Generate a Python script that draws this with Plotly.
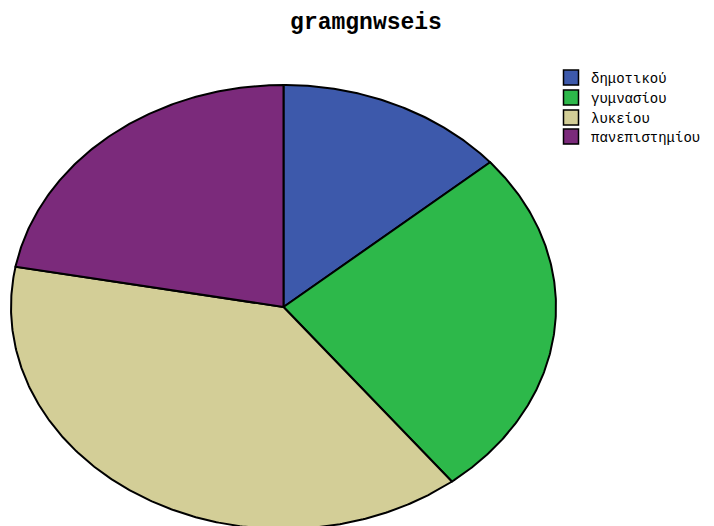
import numpy as np
import plotly.graph_objects as go

# Education level shares (percent of respondents)
categories = ["δημοτικού", "γυμνασίου", "λυκείου", "πανεπιστημίου"]
shares = [13.7, 25.7, 38.5, 22.1]
colors = ["#3d59ab", "#2db84a", "#d3ce97", "#7b2a7b"]

W, H = 714, 526
# ellipse placement in pixels (centre and radii)
cx, cy, rx, ry = 283.5, 307.0, 272.5, 222.0
# legend rows: vertical centre of each entry, in pixels
legend_rows = [77, 97, 117, 136]

fig = go.Figure()

total = float(sum(shares))
start = 0.0
for name, val, col in zip(categories, shares, colors):
    a0 = start / total * 2 * np.pi
    a1 = (start + val) / total * 2 * np.pi
    n = max(int(np.degrees(a1 - a0)) * 2, 8)
    t = np.linspace(a0, a1, n)
    xs = np.concatenate([[0.0], np.sin(t), [0.0]])
    ys = np.concatenate([[0.0], np.cos(t), [0.0]])
    fig.add_trace(go.Scatter(
        x=xs, y=ys, mode="lines", fill="toself", fillcolor=col,
        line=dict(color="black", width=2), showlegend=False,
        hoverinfo="skip",
    ))
    start += val

# one legend per entry so the rows sit at fixed positions
legend_font = dict(family="Liberation Mono", size=14, color="black")
legend_layouts = {}
for i, (name, col, row) in enumerate(zip(categories, colors, legend_rows)):
    key = "legend" if i == 0 else f"legend{i + 1}"
    fig.add_trace(go.Scatter(
        x=[None], y=[None], mode="markers", name=name, legend=key,
        marker=dict(symbol="square", size=15, color=col,
                    line=dict(color="black", width=1.5)),
    ))
    legend_layouts[key] = dict(
        x=551 / W, xanchor="left", y=1 - (row - 15) / H, yanchor="top",
        font=legend_font, bgcolor="rgba(0,0,0,0)",
        itemclick=False, itemdoubleclick=False,
    )

fig.update_layout(
    width=W, height=H,
    margin=dict(l=0, r=0, t=0, b=0),
    paper_bgcolor="white", plot_bgcolor="white",
    xaxis=dict(range=[(0 - cx) / rx, (W - cx) / rx], visible=False,
               domain=[0, 1], fixedrange=True),
    yaxis=dict(range=[(cy - H) / ry, cy / ry], visible=False,
               domain=[0, 1], fixedrange=True),
    title=dict(text="<b>gramgnwseis</b>", x=366 / W, xanchor="center",
               y=1 - 21 / H, yanchor="middle",
               font=dict(family="Liberation Mono", size=23, color="black")),
    showlegend=True,
    **legend_layouts,
)

fig.write_html("out.html", config={"displayModeBar": False})
